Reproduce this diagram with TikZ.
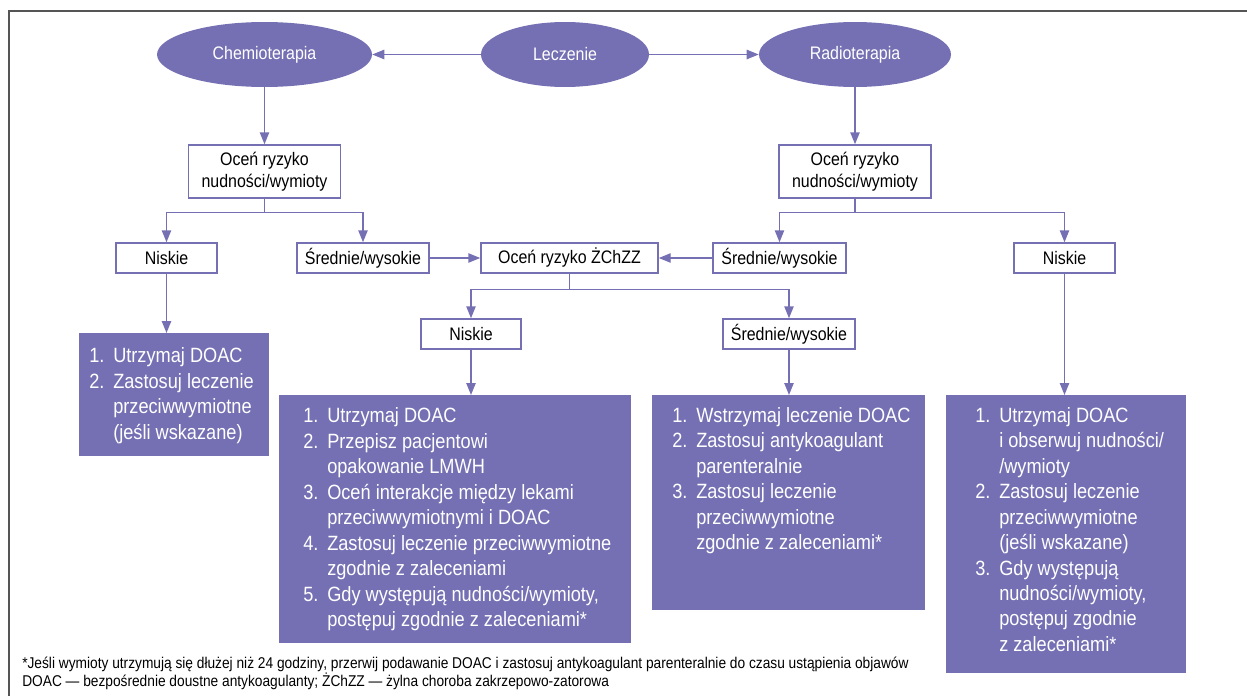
\documentclass[tikz,border=0pt]{standalone}
\usepackage{fontspec}
\setmainfont{Liberation Sans}[FakeStretch=0.88]
\usetikzlibrary{arrows.meta,positioning,shapes.geometric}
\definecolor{lila}{RGB}{117,112,179}
\definecolor{ramka}{RGB}{85,85,85}
\newcommand\pnum[1]{\makebox[18pt][l]{#1}}
\newcommand\pind{\hspace*{18pt}}

\begin{document}
\begin{tikzpicture}[
  x=0.75pt,y=-0.75pt,
  oval/.style={ellipse, fill=lila, text=white, inner sep=0pt, minimum height=48.75pt, font=\fontsize{13.6}{16}\selectfont},
  krok/.style={draw=lila, line width=1.1pt, fill=white, align=center, inner sep=0pt, minimum height=22.5pt, font=\fontsize{13.6}{16.3}\selectfont},
  zal/.style={fill=lila, inner sep=0pt, anchor=north west},
  lista/.style={inner sep=0pt, align=left, text=white, font=\fontsize{15.5}{19.1}\selectfont},
  arr/.style={-{Triangle[length=9pt,width=7pt]}, draw=lila, line width=1.1pt}
]
\useasboundingbox (0,0) rectangle (1247,696);
\draw[ramka, line width=1.5pt] (8.5,696) |- (1247,10.5);

\node[oval, minimum width=126pt] (lecz) at (565,54.5) {Leczenie};
\node[oval, minimum width=161.25pt] (chemo) at (264.5,54.5) {Chemioterapia};
\node[oval, minimum width=144pt] (radio) at (855,54.5) {Radioterapia};
\node[krok, minimum width=114pt, minimum height=39.75pt] (ocen1) at (264.5,171.5) {Oceń ryzyko\\nudności/wymioty};
\node[krok, minimum width=114pt, minimum height=39.75pt] (ocen2) at (855,171.5) {Oceń ryzyko\\nudności/wymioty};
\node[krok, minimum width=75.75pt] (nisk1) at (166.5,258) {Niskie};
\node[krok, minimum width=99pt] (srd1) at (363,258) {Średnie/wysokie};
\node[krok, minimum width=132.75pt] (zchzz) at (569.5,258) {Oceń ryzyko ŻChZZ};
\node[krok, minimum width=99.75pt] (srd2) at (779.5,258) {Średnie/wysokie};
\node[krok, minimum width=75.75pt] (nisk3) at (1064.5,258) {Niskie};
\node[krok, minimum width=75pt] (nisk2) at (471,334) {Niskie};
\node[krok, minimum width=99pt] (srd3) at (789,334) {Średnie/wysokie};

\node[zal, minimum width=142.5pt, minimum height=92.25pt] (act1) at (79,333) {};
\node[zal, minimum width=264pt, minimum height=186pt] (act2) at (279,395) {};
\node[zal, minimum width=204.75pt, minimum height=161.25pt] (act3) at (652,395) {};
\node[zal, minimum width=180pt, minimum height=208.5pt] (act4) at (946,395) {};

\node[lista, below right=11pt and 7.5pt of act1.north west] (txt1) {\pnum{1.}Utrzymaj DOAC\\\pnum{2.}Zastosuj leczenie\\\pind przeciwwymiotne\\\pind(jeśli wskazane)};
\node[lista, below right=9.5pt and 18pt of act2.north west] (txt2) {\pnum{1.}Utrzymaj DOAC\\\pnum{2.}Przepisz pacjentowi\\\pind opakowanie LMWH\\\pnum{3.}Oceń interakcje między lekami\\\pind przeciwwymiotnymi i DOAC\\\pnum{4.}Zastosuj leczenie przeciwwymiotne\\\pind zgodnie z zaleceniami\\\pnum{5.}Gdy występują nudności/wymioty,\\\pind postępuj zgodnie z zaleceniami*};
\node[lista, below right=9pt and 15pt of act3.north west] (txt3) {\pnum{1.}Wstrzymaj leczenie DOAC\\\pnum{2.}Zastosuj antykoagulant\\\pind parenteralnie\\\pnum{3.}Zastosuj leczenie\\\pind przeciwwymiotne\\\pind zgodnie z zaleceniami*};
\node[lista, below right=9pt and 21.75pt of act4.north west] (txt4) {\pnum{1.}Utrzymaj DOAC\\\pind i obserwuj nudności/\\\pind /wymioty\\\pnum{2.}Zastosuj leczenie\\\pind przeciwwymiotne\\\pind(jeśli wskazane)\\\pnum{3.}Gdy występują\\\pind nudności/wymioty,\\\pind postępuj zgodnie\\\pind z zaleceniami*};

\node[inner sep=0pt, anchor=north west, align=left, font=\fontsize{11.7}{12}\selectfont] (uwagi) at (22,657) {*Jeśli wymioty utrzymują się dłużej niż 24 godziny, przerwij podawanie DOAC i zastosuj antykoagulant parenteralnie do czasu ustąpienia objawów\\DOAC — bezpośrednie doustne antykoagulanty; ŻChZZ — żylna choroba zakrzepowo-zatorowa};

\draw[arr] (lecz) -- (chemo); \draw[arr] (lecz) -- (radio);
\draw[arr] (chemo) -- (ocen1); \draw[arr] (radio) -- (ocen2);
\draw[arr] (ocen1.south) -- ++(0,14) -| (nisk1); \draw[arr] (ocen1.south) -- ++(0,14) -| (srd1);
\draw[arr] (ocen2.south) -- ++(0,14) -| (srd2); \draw[arr] (ocen2.south) -- ++(0,14) -| (nisk3);
\draw[arr] (srd1) -- (zchzz); \draw[arr] (srd2) -- (zchzz);
\draw[arr] (zchzz.south) -- ++(0,16) -| (nisk2); \draw[arr] (zchzz.south) -- ++(0,16) -| (srd3);
\draw[arr] (nisk1) -- (nisk1 |- act1.north); \draw[arr] (nisk2) -- (nisk2 |- act2.north);
\draw[arr] (srd3) -- (srd3 |- act3.north); \draw[arr] (nisk3) -- (nisk3 |- act4.north);
\end{tikzpicture}
\end{document}
